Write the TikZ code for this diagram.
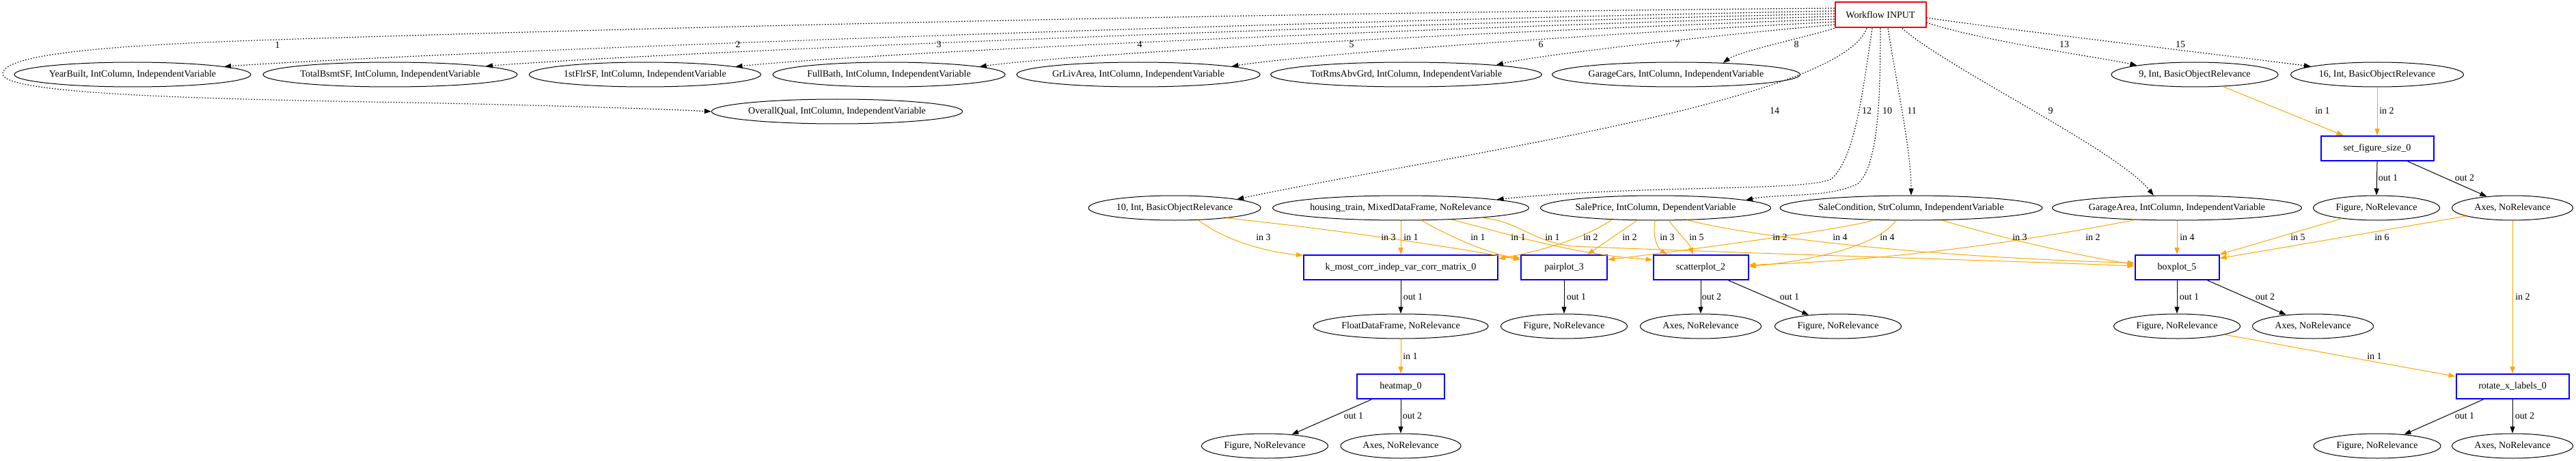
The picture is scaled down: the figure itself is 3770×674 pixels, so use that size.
\documentclass[tikz,border=0pt]{standalone}
\usepackage{fontspec}
\setmainfont{Liberation Serif}
\usetikzlibrary{arrows.meta,shapes.geometric,calc}
\definecolor{gvorange}{HTML}{FFA500}
\begin{document}
\begin{tikzpicture}[x=1pt,y=-1pt,
  every node/.style={font=\fontsize{14}{16}\selectfont},
  ell/.style={ellipse,draw,line width=1pt,minimum height=36pt,inner sep=0pt},
  fnbox/.style={rectangle,draw=blue,line width=2pt,minimum height=36pt,inner sep=0pt},
  inbox/.style={rectangle,draw=red,line width=2pt,minimum height=37pt,minimum width=133pt,inner sep=0pt},
  gvtip/.style={-{Triangle[length=10pt,width=7pt]}},
  dotedge/.style={gvtip,draw=black,line width=1.2pt,dash pattern=on 1.5pt off 2.5pt},
  oedge/.style={gvtip,draw=gvorange,line width=1pt},
  bedge/.style={gvtip,draw=black,line width=1pt},
  lbl/.style={inner sep=0pt}]
\useasboundingbox (0,0) rectangle (3770,674);

% ---------- nodes ----------
\node[inbox] (wf) at (2752,22) {Workflow INPUT};
\node[ell,minimum width=346pt] (yb) at (194,109) {YearBuilt, IntColumn, IndependentVariable};
\node[ell,minimum width=371pt] (tb) at (571,109) {TotalBsmtSF, IntColumn, IndependentVariable};
\node[ell,minimum width=339pt] (ff) at (944,109) {1stFlrSF, IntColumn, IndependentVariable};
\node[ell,minimum width=340pt] (fb) at (1301,109) {FullBath, IntColumn, IndependentVariable};
\node[ell,minimum width=354pt] (gl) at (1666,109) {GrLivArea, IntColumn, IndependentVariable};
\node[ell,minimum width=392pt] (tr) at (2058,109) {TotRmsAbvGrd, IntColumn, IndependentVariable};
\node[ell,minimum width=362pt] (gc) at (2453,109) {GarageCars, IntColumn, IndependentVariable};
\node[ell,minimum width=367pt] (oq) at (1225,163) {OverallQual, IntColumn, IndependentVariable};
\node[ell,minimum width=244pt] (i9) at (3212,109) {9, Int, BasicObjectRelevance};
\node[ell,minimum width=253pt] (i16) at (3479,109) {16, Int, BasicObjectRelevance};
\node[fnbox,minimum width=165pt] (sfs) at (3479,217) {set\_figure\_size\_0};

\node[ell,minimum width=252pt] (i10) at (1719,304) {10, Int, BasicObjectRelevance};
\node[ell,minimum width=374pt] (ht) at (2050,304) {housing\_train, MixedDataFrame, NoRelevance};
\node[ell,minimum width=337pt] (sp) at (2423,304) {SalePrice, IntColumn, DependentVariable};
\node[ell,minimum width=379pt] (sc) at (2797,304) {SaleCondition, StrColumn, IndependentVariable};
\node[ell,minimum width=362pt] (ga) at (3186,304) {GarageArea, IntColumn, IndependentVariable};
\node[ell,minimum width=185pt] (fig0) at (3478,304) {Figure, NoRelevance};
\node[ell,minimum width=177pt] (ax0) at (3677,304) {Axes, NoRelevance};

\node[fnbox,minimum width=284pt] (km) at (2050,391) {k\_most\_corr\_indep\_var\_corr\_matrix\_0};
\node[fnbox,minimum width=126pt] (pp) at (2289,391) {pairplot\_3};
\node[fnbox,minimum width=139pt] (scp) at (2489,391) {scatterplot\_2};
\node[fnbox,minimum width=123pt] (bp) at (3186,391) {boxplot\_5};

\node[ell,minimum width=256pt] (fdf) at (2050,477) {FloatDataFrame, NoRelevance};
\node[ell,minimum width=185pt] (figpp) at (2289,477) {Figure, NoRelevance};
\node[ell,minimum width=177pt] (axsc) at (2489,477) {Axes, NoRelevance};
\node[ell,minimum width=185pt] (figsc) at (2690,477) {Figure, NoRelevance};
\node[ell,minimum width=185pt] (figbp) at (3186,477) {Figure, NoRelevance};
\node[ell,minimum width=177pt] (axbp) at (3385,477) {Axes, NoRelevance};

\node[fnbox,minimum width=128pt] (hm) at (2050,565) {heatmap\_0};
\node[fnbox,minimum width=165pt] (rx) at (3677,565) {rotate\_x\_labels\_0};

\node[ell,minimum width=185pt] (fighm) at (1851,652) {Figure, NoRelevance};
\node[ell,minimum width=176pt] (axhm) at (2050,652) {Axes, NoRelevance};
\node[ell,minimum width=186pt] (figrx) at (3479,652) {Figure, NoRelevance};
\node[ell,minimum width=177pt] (axrx) at (3677,652) {Axes, NoRelevance};

% ---------- dotted edges from Workflow INPUT ----------
\draw[dotedge] ($(wf.west)+(0,-10)$) .. controls (1700,20) and (800,45) .. (406,58)
  .. controls (150,66) and (4,80) .. (4,108) .. controls (4,138) and (300,145) .. (600,150)
  .. controls (850,155) and (980,160) .. (oq.west);
\draw[dotedge] ($(wf.west)+(0,-6)$) .. controls (1740,34) and (606,78) .. (yb.5);
\draw[dotedge] ($(wf.west)+(0,-2)$) .. controls (1895,38) and (945,78) .. (tb.5);
\draw[dotedge] ($(wf.west)+(0,2)$) .. controls (2040,42) and (1264,78) .. (ff.5);
\draw[dotedge] ($(wf.west)+(0,6)$) .. controls (2182,46) and (1578,78) .. (fb.5);
\draw[dotedge] ($(wf.west)+(0,10)$) .. controls (2332,50) and (1906,80) .. (gl.5);
\draw[dotedge] ($(wf.west)+(0,14)$) .. controls (2484,54) and (2241,82) .. (tr.6);
\draw[dotedge] (wf.south west) .. controls (2640,55) and (2545,75) .. (gc.14);
\draw[dotedge] ($(wf.east)+(0,11)$) .. controls (2900,60) and (3080,85) .. (i9.171);
\draw[dotedge] ($(wf.east)+(0,4)$) .. controls (2950,45) and (3250,80) .. (i16.173);
\draw[dotedge] ($(wf.south)+(-20,0)$) .. controls (2690,150) and (2100,230) .. (i10.8);
\draw[dotedge] ($(wf.south)+(-12,0)$) .. controls (2725,140) and (2715,230) .. (2680,262)
  .. controls (2640,280) and (2400,270) .. (ht.5);
\draw[dotedge] (wf.south) .. controls (2752,150) and (2748,240) .. (2720,268)
  .. controls (2680,290) and (2600,283) .. (sp.5);
\draw[dotedge] ($(wf.south)+(11,0)$) .. controls (2775,120) and (2797,220) .. (sc.north);
\draw[dotedge] ($(wf.south)+(32,0)$) .. controls (2850,100) and (3100,220) .. (ga.152);

\node[lbl] (d1) at (406,66) {1};
\node[lbl] (d2) at (1080,65) {2};
\node[lbl] (d3) at (1374,65) {3};
\node[lbl] (d4) at (1668,65) {4};
\node[lbl] (d5) at (1978,65) {5};
\node[lbl] (d6) at (2255,65) {6};
\node[lbl] (d7) at (2455,65) {7};
\node[lbl] (d8) at (2629,65) {8};
\node[lbl] (d13) at (3021,65) {13};
\node[lbl] (d15) at (3191,65) {15};
\node[lbl] (d14) at (2597,162) {14};
\node[lbl] (d12) at (2732,162) {12};
\node[lbl] (d10) at (2762,162) {10};
\node[lbl] (d11) at (2798,162) {11};
\node[lbl] (d9) at (3001,162) {9};

% ---------- orange input edges ----------
\draw[oedge] (i9.-23) -- (sfs.159);
\draw[oedge] (i16.south) -- (sfs.north);
\draw[oedge] (fdf.south) -- (hm.north);
\draw[oedge] (figbp.-10) -- (rx.170);
\draw[oedge] (ax0.south) -- (rx.north);
\draw[oedge] (fig0.197) -- (bp.north east);
\draw[oedge] (ax0.190) -- (bp.12);
\draw[oedge] (ga.south) -- (bp.north);
\draw[oedge] (ga.196) .. controls (3000,345) and (2800,380) .. (scp.3);
\draw[oedge] (sc.198) .. controls (2715,332) and (2500,362) .. (pp.10);
\draw[oedge] (sc.219) .. controls (2755,352) and (2680,378) .. (scp.1);
\draw[oedge] (sc.-22) .. controls (2920,345) and (3030,372) .. (bp.176);
\draw[oedge] (sp.195) .. controls (2325,345) and (2265,365) .. (km.5);
\draw[oedge] (sp.214) -- (pp.29);
\draw[oedge] (sp.268) .. controls (2418,345) and (2425,362) .. (scp.159);
\draw[oedge] (sp.-43) .. controls (2455,340) and (2472,355) .. (scp.121);
\draw[oedge] (sp.-21) .. controls (2560,345) and (2800,375) .. (bp.174);
\draw[oedge] (ht.south) -- (km.north);
\draw[oedge] (ht.-31) .. controls (2120,345) and (2180,372) .. (pp.168);
\draw[oedge] (ht.-13) .. controls (2200,340) and (2300,372) .. (scp.171);
\draw[oedge] (ht.-7) .. controls (2220,322) and (2240,352) .. (2300,360)
  .. controls (2600,372) and (2900,380) .. (bp.178);
\draw[oedge] (i10.-27) .. controls (1790,350) and (1850,368) .. (km.173);
\draw[oedge] (i10.-11) .. controls (1950,335) and (2120,360) .. (pp.170);

\node[lbl] (o1) at (3399,162) {in 1};
\node[lbl] (o2) at (3493,162) {in 2};
\node[lbl] (o3) at (2064,521) {in 1};
\node[lbl] (o4) at (3475,521) {in 1};
\node[lbl] (o5) at (3692,434) {in 2};
\node[lbl] (o6) at (3363,347) {in 5};
\node[lbl] (o7) at (3486,347) {in 6};
\node[lbl] (o8) at (3201,347) {in 4};
\node[lbl] (o9) at (3063,347) {in 2};
\node[lbl] (o10) at (2693,347) {in 4};
\node[lbl] (o11) at (2762,347) {in 4};
\node[lbl] (o12) at (2956,347) {in 3};
\node[lbl] (o13) at (2328,347) {in 2};
\node[lbl] (o14) at (2385,347) {in 2};
\node[lbl] (o15) at (2440,347) {in 3};
\node[lbl] (o16) at (2483,347) {in 5};
\node[lbl] (o17) at (2605,347) {in 2};
\node[lbl] (o18) at (2065,347) {in 1};
\node[lbl] (o19) at (2163,347) {in 1};
\node[lbl] (o20) at (2222,347) {in 1};
\node[lbl] (o21) at (2272,347) {in 1};
\node[lbl] (o22) at (1849,347) {in 3};
\node[lbl] (o23) at (2032,347) {in 3};

% ---------- black output edges ----------
\draw[bedge] (km.south) -- (fdf.north);
\draw[bedge] (pp.south) -- (figpp.north);
\draw[bedge] (scp.south) -- (axsc.north);
\draw[bedge] (scp.-25) -- (figsc.159);
\draw[bedge] (bp.south) -- (figbp.north);
\draw[bedge] (bp.-23) -- (axbp.157);
\draw[bedge] (sfs.south) -- (fig0.north);
\draw[bedge] (sfs.-23) -- (ax0.156);
\draw[bedge] (hm.204) -- (fighm.23);
\draw[bedge] (hm.south) -- (axhm.north);
\draw[bedge] (rx.204) -- (figrx.23);
\draw[bedge] (rx.south) -- (axrx.north);

\node[lbl] (b1) at (2068,434) {out 1};
\node[lbl] (b2) at (2307,434) {out 1};
\node[lbl] (b3) at (2505,434) {out 2};
\node[lbl] (b4) at (2619,434) {out 1};
\node[lbl] (b5) at (3204,434) {out 1};
\node[lbl] (b6) at (3315,434) {out 2};
\node[lbl] (b7) at (3495,260) {out 1};
\node[lbl] (b8) at (3607,260) {out 2};
\node[lbl] (b9) at (1981,608) {out 1};
\node[lbl] (b10) at (2067,608) {out 2};
\node[lbl] (b11) at (3607,608) {out 1};
\node[lbl] (b12) at (3695,608) {out 2};
\end{tikzpicture}
\end{document}
